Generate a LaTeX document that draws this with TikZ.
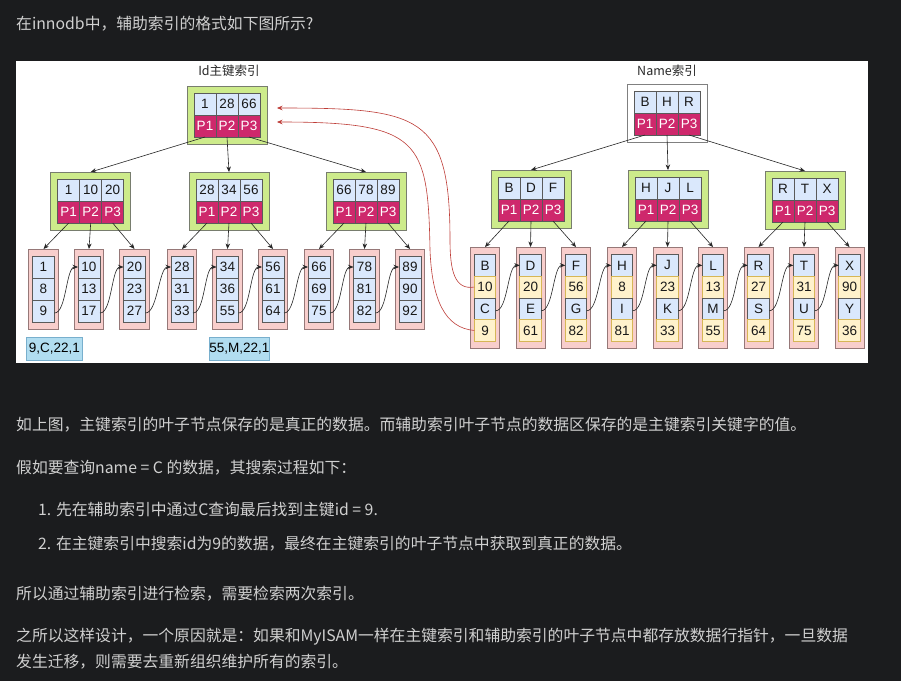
\documentclass[tikz,border=0pt]{standalone}
\usepackage{fontspec}
\setmainfont{Liberation Sans}
\newfontfamily\cjk{Noto Sans CJK SC}
\usetikzlibrary{arrows.meta}
\definecolor{bgdark}{RGB}{27,28,30}
\definecolor{bodytxt}{RGB}{208,208,208}
\definecolor{gfill}{RGB}{205,235,139}
\definecolor{gdraw}{RGB}{120,125,110}
\definecolor{kfill}{RGB}{218,232,252}
\definecolor{kdraw}{RGB}{90,90,90}
\definecolor{pfill}{RGB}{206,40,108}
\definecolor{lfill}{RGB}{248,206,204}
\definecolor{ldraw}{RGB}{150,120,120}
\definecolor{vfill}{RGB}{255,242,204}
\definecolor{vdraw}{RGB}{214,182,86}
\definecolor{tfill}{RGB}{177,221,240}
\definecolor{tdraw}{RGB}{120,175,205}
\definecolor{redc}{RGB}{190,60,55}
\definecolor{ttltxt}{RGB}{40,40,40}

\tikzset{
  cellfont/.style={font=\fontsize{13.5}{15}\selectfont},
  kcell/.style={draw=kdraw, fill=kfill, minimum width=22pt, minimum height=22pt, inner sep=0pt, outer sep=0pt, line width=0.6pt, cellfont, text=black!90},
  pcell/.style={kcell, fill=pfill, text=white},
  gbox/.style={draw=gdraw, fill=gfill, minimum width=80pt, minimum height=58pt, inner sep=0pt, outer sep=0pt, line width=0.8pt},
  wbox/.style={gbox, fill=white, draw=black!50},
  leafi/.style={draw=ldraw, fill=lfill, minimum width=29.5pt, minimum height=80pt, inner sep=0pt, outer sep=0pt, line width=0.7pt},
  leafn/.style={leafi, minimum width=29pt, minimum height=101pt},
  nk/.style={kcell, minimum width=21.5pt, minimum height=21.7pt},
  nv/.style={nk, fill=vfill, draw=vdraw},
  tagbox/.style={draw=tdraw, fill=tfill, minimum width=56.7pt, minimum height=23pt, inner sep=0pt, line width=0.6pt, cellfont},
  arr/.style={draw=black!85, line width=0.6pt, -{Stealth[length=5.5pt,width=4.5pt]}},
  redarr/.style={draw=redc, line width=0.6pt, -{Stealth[length=5.5pt,width=4.5pt]}},
  body/.style={anchor=base west, text=bodytxt, font=\cjk\fontsize{15.8}{18}\selectfont, inner sep=0pt},
  ttl/.style={text=ttltxt, font=\cjk\fontsize{12.5}{14}\selectfont, inner sep=0pt}
}

\newcommand{\inode}[7]{%
  \node[#7] (#1) at (#2,#3+29) {};
  \node[kcell] (#1k1) at (#2-22,#3+18) {#4};
  \node[kcell] (#1k2) at (#2,#3+18) {#5};
  \node[kcell] (#1k3) at (#2+22,#3+18) {#6};
  \node[pcell] (#1p1) at (#2-22,#3+40) {P1};
  \node[pcell] (#1p2) at (#2,#3+40) {P2};
  \node[pcell] (#1p3) at (#2+22,#3+40) {P3};
}
\newcommand{\ileaf}[5]{%
  \node[leafi] (#1) at (#2,289) {};
  \node[kcell] (#1a) at (#2,267) {#3};
  \node[kcell] (#1b) at (#2,289) {#4};
  \node[kcell] (#1c) at (#2,311) {#5};
}
\newcommand{\nleaf}[6]{%
  \node[leafn] (#1) at (#2,297.5) {};
  \node[nk] (#1a) at (#2,265.35) {#3};
  \node[nv] (#1b) at (#2,287.05) {#4};
  \node[nk] (#1c) at (#2,308.75) {#5};
  \node[nv] (#1d) at (#2,330.45) {#6};
}

\begin{document}
\begin{tikzpicture}[x=1pt,y=-1pt]
\useasboundingbox (0,0) rectangle (901,681);
\fill[bgdark] (0,0) rectangle (901,681);
\fill[white] (16,61) rectangle (868,363);

% titles
\node[ttl] (idt) at (229,71) {Id主键索引};
\node[ttl] (nmt) at (667,71) {Name索引};

% Id index
\inode{ir}{227}{86}{1}{28}{66}{gbox}
\inode{ia}{90.7}{172}{1}{10}{20}{gbox}
\inode{ib}{229}{172}{28}{34}{56}{gbox}
\inode{ic}{366}{172}{66}{78}{89}{gbox}

\ileaf{il1}{43.5}{1}{8}{9}
\ileaf{il2}{89}{10}{13}{17}
\ileaf{il3}{134.5}{20}{23}{27}
\ileaf{il4}{182}{28}{31}{33}
\ileaf{il5}{227.5}{34}{36}{55}
\ileaf{il6}{273}{56}{61}{64}
\ileaf{il7}{319}{66}{69}{75}
\ileaf{il8}{364.5}{78}{81}{82}
\ileaf{il9}{410}{89}{90}{92}

% Name index
\inode{nr}{667}{84}{B}{H}{R}{wbox}
\inode{na}{531}{170}{B}{D}{F}{gbox}
\inode{nb}{668}{170}{H}{J}{L}{gbox}
\inode{nc}{805}{171}{R}{T}{X}{gbox}

\nleaf{nl1}{485}{B}{10}{C}{9}
\nleaf{nl2}{530.5}{D}{20}{E}{61}
\nleaf{nl3}{576}{F}{56}{G}{82}
\nleaf{nl4}{622}{H}{8}{I}{81}
\nleaf{nl5}{667.5}{J}{23}{K}{33}
\nleaf{nl6}{713}{L}{13}{M}{55}
\nleaf{nl7}{758.5}{R}{27}{S}{64}
\nleaf{nl8}{804}{T}{31}{U}{75}
\nleaf{nl9}{849.5}{X}{90}{Y}{36}

% tags
\node[tagbox] (tg1) at (54.3,348.5) {9,C,22,1};
\node[tagbox] (tg2) at (239.3,348.5) {55,M,22,1};

% tree arrows
\draw[arr] (irp1.south) -- (ia.north);
\draw[arr] (irp2.south) -- (ib.north);
\draw[arr] (irp3.south) -- (ic.north);
\draw[arr] (iap1.south) -- (il1.north);
\draw[arr] (iap2.south) -- (il2.north);
\draw[arr] (iap3.south) -- (il3.north);
\draw[arr] (ibp1.south) -- (il4.north);
\draw[arr] (ibp2.south) -- (il5.north);
\draw[arr] (ibp3.south) -- (il6.north);
\draw[arr] (icp1.south) -- (il7.north);
\draw[arr] (icp2.south) -- (il8.north);
\draw[arr] (icp3.south) -- (il9.north);

\draw[arr] (nrp1.south) -- (na.north);
\draw[arr] (nrp2.south) -- (nb.north);
\draw[arr] (nrp3.south) -- (nc.north);
\draw[arr] (nap1.south) -- (nl1.north);
\draw[arr] (nap2.south) -- (nl2.north);
\draw[arr] (nap3.south) -- (nl3.north);
\draw[arr] (nbp1.south) -- (nl4.north);
\draw[arr] (nbp2.south) -- (nl5.north);
\draw[arr] (nbp3.south) -- (nl6.north);
\draw[arr] (ncp1.south) -- (nl7.north);
\draw[arr] (ncp2.south) -- (nl8.north);
\draw[arr] (ncp3.south) -- (nl9.north);

% leaf links
\foreach \i [count=\j from 2] in {1,...,8} {
  \draw[arr] ([yshift=-2pt]il\i c.east) .. controls +(12,0) and +(-12,0) .. (il\j a.west);
  \draw[arr] ([yshift=-2pt]nl\i c.east) .. controls +(12,0) and +(-12,0) .. (nl\j a.west);
}

% red curves
\coordinate (rt1) at (277,108);
\coordinate (rt2) at (277,122);
\coordinate (rm1) at (450,240);
\coordinate (rm2) at (430,250);
\draw[redarr] (nl1b.west) .. controls (455,290) and (450,272) .. (rm1)
  .. controls (450,115) and (420,108) .. (rt1);
\draw[redarr] (nl1d.west) .. controls (445,328) and (432,300) .. (rm2)
  .. controls (428,140) and (420,122) .. (rt2);

% body text
\node[body] (t1) at (16,29) {在innodb中，辅助索引的格式如下图所示?};
\node[body] (t2) at (16,430) {如上图，主键索引的叶子节点保存的是真正的数据。而辅助索引叶子节点的数据区保存的是主键索引关键字的值。};
\node[body] (t3) at (16,473) {假如要查询name = C 的数据，其搜索过程如下：};
\node[body] (t4) at (38,515) {1. 先在辅助索引中通过C查询最后找到主键id = 9.};
\node[body] (t5) at (38,549) {2. 在主键索引中搜索id为9的数据，最终在主键索引的叶子节点中获取到真正的数据。};
\node[body] (t6) at (16,599) {所以通过辅助索引进行检索，需要检索两次索引。};
\node[body] (t7) at (16,641) {之所以这样设计，一个原因就是：如果和MyISAM一样在主键索引和辅助索引的叶子节点中都存放数据行指针，一旦数据};
\node[body] (t8) at (16,667) {发生迁移，则需要去重新组织维护所有的索引。};
\end{tikzpicture}
\end{document}
